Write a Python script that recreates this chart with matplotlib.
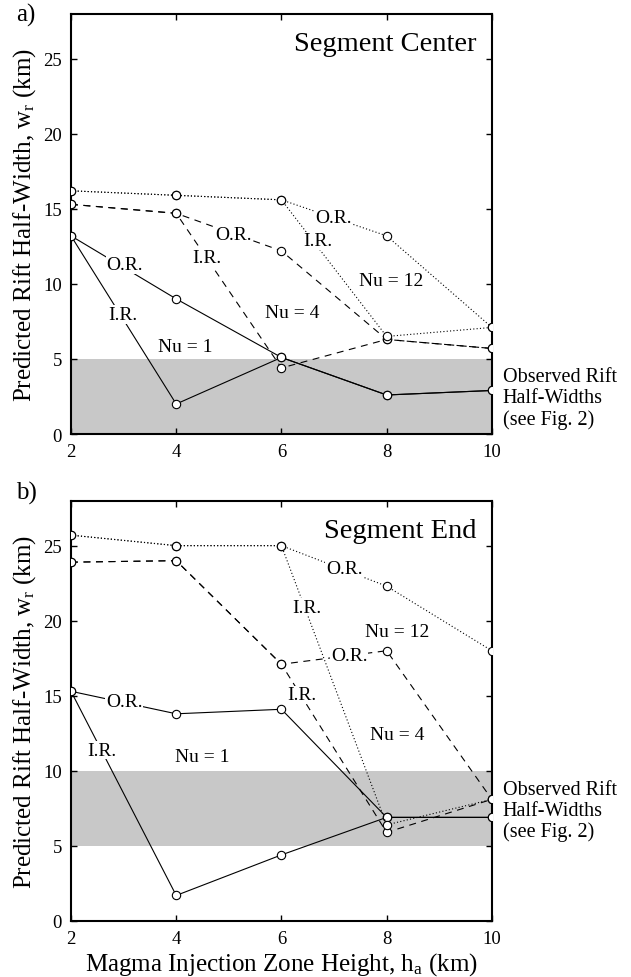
import matplotlib
matplotlib.use("Agg")
import matplotlib.pyplot as plt

# 글꼴: Times 계열
plt.rcParams['font.family'] = ['Liberation Serif', 'DejaVu Serif']
plt.rcParams['mathtext.fontset'] = 'custom'
plt.rcParams['mathtext.rm'] = 'Liberation Serif'
plt.rcParams['mathtext.it'] = 'Liberation Serif'
plt.rcParams['lines.scale_dashes'] = False

h_a = [2, 4, 6, 8, 10]

# a) Segment Center
center_or = {
    1: [13.2, 9.0, 5.1, 2.6, 2.9],
    4: [15.3, 14.7, 12.2, 6.3, 5.7],
    12: [16.2, 15.9, 15.6, 13.2, 7.1],
}
center_ir = {
    1: [13.2, 2.0, 5.1, 2.6, 2.9],
    4: [15.3, 14.7, 4.4, 6.3, 5.7],
    12: [16.2, 15.9, 15.6, 6.5, 7.1],
}
center_band = (0, 5)

# b) Segment End
end_or = {
    1: [15.3, 13.8, 14.1, 6.9, 6.9],
    4: [23.9, 24.0, 17.1, 18.0, 8.1],
    12: [25.7, 25.0, 25.0, 22.3, 18.0],
}
end_ir = {
    1: [15.3, 1.7, 4.4, 6.9, 6.9],
    4: [23.9, 24.0, 17.1, 5.9, 8.1],
    12: [25.7, 25.0, 25.0, 6.4, 8.1],
}
end_band = (5, 10)

styles = {1: '-', 4: (0, (5, 4)), 12: (0, (0.8, 1.6))}

# 라벨 위치 (data 좌표)
center_labels = [
    ("O.R.", 3.02, 11.3, True), ("I.R.", 2.99, 7.97, True), ("Nu = 1", 4.17, 5.85, False),
    ("O.R.", 5.09, 13.3, True), ("I.R.", 4.59, 11.75, True), ("Nu = 4", 6.2, 8.1, False),
    ("O.R.", 6.99, 14.4, True), ("I.R.", 6.7, 12.87, True), ("Nu = 12", 8.09, 10.2, False),
]
end_labels = [
    ("O.R.", 3.01, 14.6, True), ("I.R.", 2.59, 11.38, True), ("Nu = 1", 4.49, 10.96, False),
    ("O.R.", 7.29, 17.65, True), ("I.R.", 6.39, 15.06, True), ("Nu = 4", 8.2, 12.4, False),
    ("O.R.", 7.19, 23.45, True), ("I.R.", 6.49, 20.9, True), ("Nu = 12", 8.2, 19.26, False),
]

fig = plt.figure(figsize=(6.31, 9.78), dpi=100)
ax_a = fig.add_axes([0.1125, 0.5552, 0.667, 0.4298])
ax_b = fig.add_axes([0.1125, 0.0573, 0.667, 0.4298])


def draw_panel(ax, or_vals, ir_vals, band, title, labels, obs_y):
    ax.axhspan(band[0], band[1], color='#c8c8c8', lw=0, zorder=0)
    for nu in [1, 4, 12]:
        for vals in (ir_vals[nu], or_vals[nu]):
            ax.plot(h_a, vals, color='black', lw=0.8, linestyle=styles[nu],
                    marker='o', markersize=6, markerfacecolor='white',
                    markeredgecolor='black', markeredgewidth=0.8, zorder=3)
    for txt, x, y, boxed in labels:
        kw = {}
        if boxed:
            kw['bbox'] = dict(facecolor='white', edgecolor='none', pad=0.5)
        ax.text(x, y, txt, fontsize=14, ha='center', va='center', zorder=4, **kw)
    ax.text(9.7, 26.0, title, fontsize=20.5, ha='right', va='center')
    ax.text(10.21, obs_y, "Observed Rift\nHalf-Widths\n(see Fig. 2)", fontsize=14.5,
            ha='left', va='center', linespacing=1.12, clip_on=False)
    ax.set_xlim(2, 10)
    ax.set_ylim(0, 28)
    ax.set_xticks(h_a)
    ax.set_yticks([0, 5, 10, 15, 20, 25])
    ax.tick_params(direction='in', length=4, width=1, labelsize=13.5, pad=6.5,
                   top=True, right=True)
    for sp in ax.spines.values():
        sp.set_linewidth(1.5)
    ax.set_ylabel("Predicted Rift Half-Width, w$_\\mathrm{r}$ (km)", fontsize=18, labelpad=4)


draw_panel(ax_a, center_or, center_ir, center_band, "Segment Center", center_labels, 2.4)
draw_panel(ax_b, end_or, end_ir, end_band, "Segment End", end_labels, 7.35)
ax_b.set_xlabel("Magma Injection Zone Height, h$_\\mathrm{a}$ (km)", fontsize=18, labelpad=2)

fig.text(16 / 631, 1 - 15 / 978, "a)", fontsize=18, ha='left', va='center')
fig.text(16 / 631, 1 - 493 / 978, "b)", fontsize=18, ha='left', va='center')

fig.savefig("out.png", dpi=100)
